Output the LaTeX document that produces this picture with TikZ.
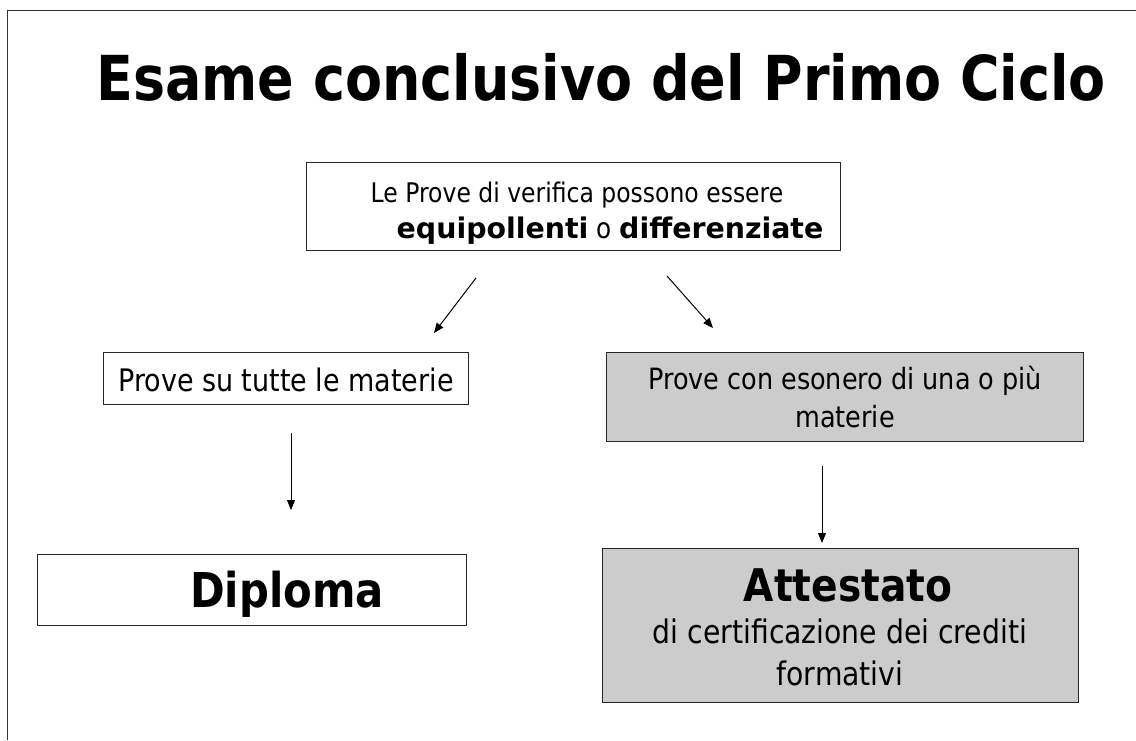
\documentclass[tikz,border=0pt]{standalone}
\usepackage{fontspec}
\setmainfont[FakeStretch=0.87]{DejaVu Sans}
\newfontfamily\widebold{DejaVu Sans Bold}
\usetikzlibrary{arrows.meta}
\definecolor{boxgray}{HTML}{CCCCCC}
\definecolor{framegray}{HTML}{333333}
\tikzset{
  box/.style={draw=black!85, line width=1pt, inner sep=0pt, anchor=center},
  graybox/.style={box, fill=boxgray},
  txt/.style={inner sep=0pt, align=center, anchor=base},
  arr/.style={line width=1pt, -{Triangle[length=10pt,width=8pt]}},
}
\begin{document}
\begin{tikzpicture}[x=1pt,y=-1pt]
\useasboundingbox (0,0) rectangle (1136,740);
% slide frame
\coordinate (ftl) at (7,10);
\coordinate (ftr) at (1136,10);
\coordinate (fbl) at (7,740);
\draw[framegray, line width=1pt] (ftr) -- (ftl) -- (fbl);
% title
\node[txt, font=\bfseries\fontsize{62}{70}\selectfont] (title) at (601,100) {Esame conclusivo del Primo Ciclo};
% boxes
\node[box, minimum width=534, minimum height=88] (top) at (573,206) {};
\node[txt, font=\fontsize{27}{34}\selectfont] (top1) at (577,202) {Le Prove di verifica possono essere};
\node[txt, font=\fontsize{28.4}{34}\selectfont] (top2) at (610,238) {{\widebold equipollenti} o {\widebold differenziate}};
\node[box, minimum width=365, minimum height=52] (left) at (286,378) {};
\node[txt, font=\fontsize{31}{36}\selectfont] (lefttxt) at (left.center |- 0,391) {Prove su tutte le materie};
\node[graybox, minimum width=477, minimum height=89] (right) at (845,396.5) {};
\node[txt, font=\fontsize{29.3}{37}\selectfont] (right1) at (right.center |- 0,389) {Prove con esonero di una o più};
\node[txt, font=\fontsize{29.3}{37}\selectfont] (right2) at (right.center |- 0,427) {materie};
\node[box, minimum width=429, minimum height=71] (diploma) at (251.5,589.5) {};
\node[txt, font=\bfseries\fontsize{48}{50}\selectfont] (diplomatxt) at (287,607) {Diploma};
\node[graybox, minimum width=476, minimum height=154] (attestato) at (840,625) {};
\node[txt, font=\bfseries\fontsize{45}{48}\selectfont] (att1) at (848,601) {Attestato};
\node[txt, font=\fontsize{32.5}{42}\selectfont] (att2) at (840,643) {di certificazione dei crediti};
\node[txt, font=\fontsize{32.5}{42}\selectfont] (att3) at (840,685) {formativi};
% arrows
\coordinate (a1s) at (476,278); \coordinate (a1e) at (434,333);
\coordinate (a2s) at (667,276); \coordinate (a2e) at (713,328);
\coordinate (a3s) at (291,433); \coordinate (a3e) at (291,510);
\coordinate (a4s) at (822,466); \coordinate (a4e) at (822,543);
\draw[arr] (a1s) -- (a1e);
\draw[arr] (a2s) -- (a2e);
\draw[arr] (a3s) -- (a3e);
\draw[arr] (a4s) -- (a4e);
\end{tikzpicture}
\end{document}
